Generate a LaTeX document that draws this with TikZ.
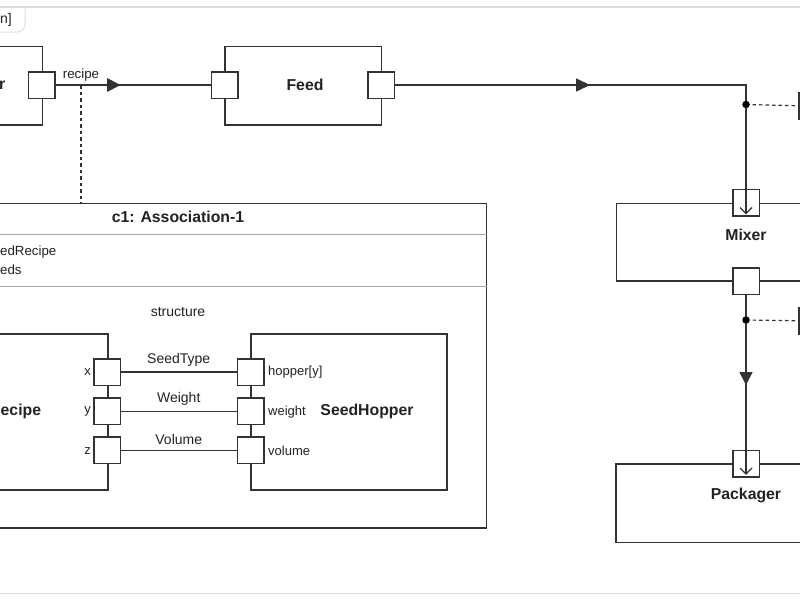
\documentclass[tikz,border=0pt]{standalone}
\usepackage{fontspec}
\setmainfont{Liberation Sans}
\usetikzlibrary{arrows.meta}
\definecolor{ln}{HTML}{333333}
\definecolor{fr}{HTML}{DCDCDC}
\definecolor{txt}{HTML}{222222}
\begin{document}
\begin{tikzpicture}[x=1pt,y=-1pt,
  block/.style={draw=ln, line width=1.5pt, rectangle, inner sep=0pt, anchor=north west},
  port/.style={draw=ln, fill=white, line width=1.5pt, minimum width=26.5pt, minimum height=26.5pt, inner sep=0pt},
  btitle/.style={font=\fontsize{15.8}{18}\selectfont\bfseries, text=txt, inner sep=0pt},
  lbl/.style={font=\fontsize{14}{16}\selectfont, text=txt, inner sep=0pt},
  plbl/.style={font=\fontsize{13}{15}\selectfont, text=txt, inner sep=0pt},
  conn/.style={draw=ln, line width=1.5pt},
  dashconn/.style={draw=ln, line width=1.2pt, dash pattern=on 3.5pt off 3pt},
  sep/.style={draw=black!35, line width=1pt},
  tri/.style={fill=ln},
  jdot/.style={circle, fill=black, inner sep=0pt, minimum size=7.5pt}]
\useasboundingbox (0,0) rectangle (800,600);
\fill[white] (0,0) rectangle (800,600);
% frame
\draw[fr, line width=1.5pt] (0,7) -- (800,7);
\draw[fr, line width=1.5pt] (0,593.5) -- (800,593.5);
\draw[black!12, line width=1pt] (0,32) -- (17,32) arc[start angle=90, end angle=0, radius=8] -- (25,7);
\node[lbl, anchor=west] (framelbl) at (0,20) {n]};

% left block (cut)
\node[block, minimum width=141.7pt, minimum height=78.3pt] (src) at (-100,45.7) {};
\node[btitle, anchor=west] (srct) at (-1,85) {r};
\node[port] (srcp) at (41.5,85) {};

% Feed
\node[block, minimum width=156.7pt, minimum height=78.6pt] (feed) at (224,45.7) {};
\node[btitle] (feedt) at (305,85) {Feed};
\node[port] (feedin) at (224.5,85) {};
\node[port] (feedout) at (381,85) {};

% Mixer
\node[block, minimum width=260.5pt, minimum height=77.6pt] (mixer) at (615.7,202.7) {};
\node[btitle] (mixert) at (746,234.5) {Mixer};
\node[port] (mixin) at (746,202.5) {};
\node[port] (mixout) at (746,281) {};

% Packager
\node[block, minimum width=261pt, minimum height=78.4pt] (pack) at (615.3,463.3) {};
\node[btitle] (packt) at (746,495) {Packager};
\node[port] (packin) at (746,463.5) {};

% right partial boxes
\node[block, minimum width=40pt, minimum height=26pt] (rb1) at (798,92) {};
\node[block, minimum width=40pt, minimum height=26pt] (rb2) at (798,307) {};

% connectors
\coordinate (bend) at (746,85);
\draw[conn] (srcp.east) -- (feedin.west);
\draw[conn] (feedout.east) -- (bend) -- (mixin.north);
\draw[conn] (mixout.south) -- (packin.north);
\node[lbl, font=\fontsize{13.3}{15}\selectfont] (recipel) at (81,75.5) {recipe};
\fill[tri] (107,78) -- (120.5,85) -- (107,92) -- cycle;
\fill[tri] (576,78.3) -- (590,85) -- (576,91.7) -- cycle;
\fill[tri] (739.3,372) -- (746,385) -- (752.7,372) -- cycle;

\coordinate (j1) at (746,104.5);
\coordinate (j2) at (746,320);
\coordinate (rcp) at (81,85);
\draw[dashconn] (j1) -- (rb1.west);
\draw[dashconn] (j2) -- (rb2.west);
\node[jdot] at (j1) {};
\node[jdot] at (j2) {};

% port arrows
\draw[ln, line width=1.2pt] (mixin.north) -- (746,213.5);
\draw[ln, line width=1.2pt] (740,207.5) -- (746,213.5) -- (752,207.5);
\draw[ln, line width=1.2pt] (packin.north) -- (746,474);
\draw[ln, line width=1.2pt] (740,468) -- (746,474) -- (752,468);

% association box
\node[block, minimum width=615pt, minimum height=324.3pt] (assoc) at (-129.5,202.7) {};
\draw[dashconn] (rcp) -- (assoc.north -| rcp);
\node[btitle] (assoct) at (178,216.5) {c1: Association-1};
\draw[sep] (-10,234) -- (assoc.east |- 0,234);
\draw[sep] (-10,286) -- (assoc.east |- 0,286);
\node[lbl, font=\fontsize{13.3}{15}\selectfont, anchor=west] (attr1) at (0,252.5) {edRecipe};
\node[lbl, font=\fontsize{13.3}{15}\selectfont, anchor=west] (attr2) at (0,269.5) {eds};
\node[lbl] (structl) at (178,312) {structure};

% inner parts
\node[block, minimum width=167.3pt, minimum height=156pt] (rec) at (-60,333.3) {};
\node[btitle, anchor=west] (rect) at (0.5,411) {ecipe};
\node[block, minimum width=196pt, minimum height=156pt] (hop) at (250,333.3) {};
\node[btitle] (hopt) at (367,411) {SeedHopper};

\node[port] (px) at (107,372) {};
\node[port] (py) at (107,411.3) {};
\node[port] (pz) at (107,450.3) {};
\node[port] (hx) at (250.5,372) {};
\node[port] (hy) at (250.5,411.3) {};
\node[port] (hz) at (250.5,450.3) {};

\node[plbl, anchor=east] at (91,372.5) {x};
\node[plbl, anchor=east] at (91,411.8) {y};
\node[plbl, anchor=east] at (91,450.8) {z};
\node[plbl, anchor=west] at (268,372.5) {hopper[y]};
\node[plbl, anchor=west] at (268,411.8) {weight};
\node[plbl, anchor=west] at (268,450.8) {volume};

\draw[conn] (px.east) -- node[lbl, above=5pt] {SeedType} (hx.west);
\draw[conn] (py.east) -- node[lbl, above=5pt] {Weight} (hy.west);
\draw[conn] (pz.east) -- node[lbl, above=5pt] {Volume} (hz.west);
\end{tikzpicture}
\end{document}
